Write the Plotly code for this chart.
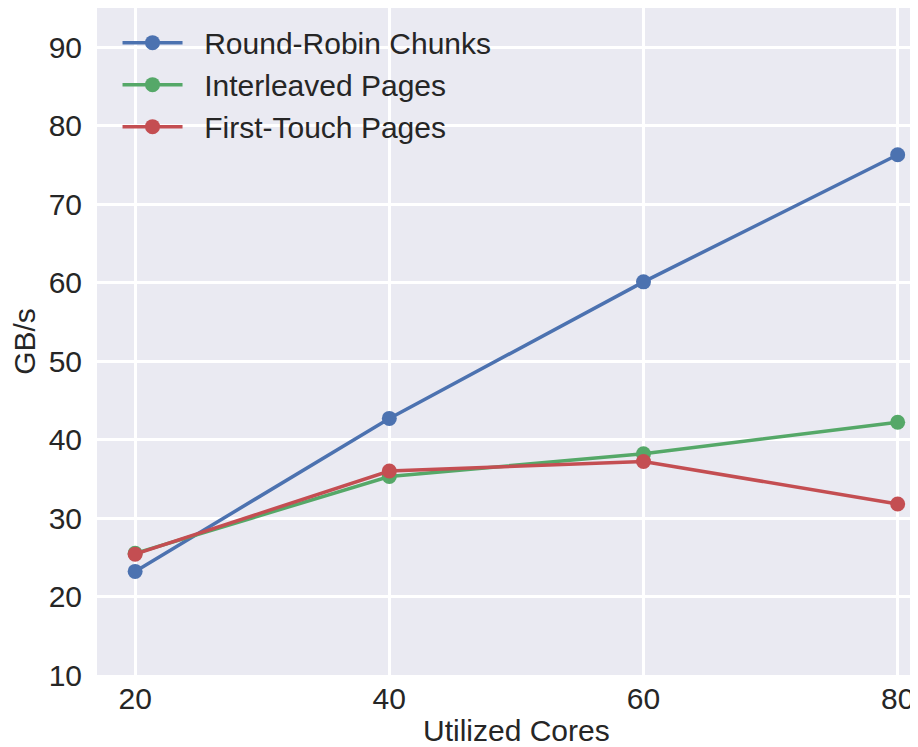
import plotly.graph_objects as go

cores = [20, 40, 60, 80]
round_robin = [23.2, 42.7, 60.1, 76.3]
interleaved = [25.5, 35.3, 38.2, 42.2]
first_touch = [25.4, 36.0, 37.2, 31.8]

series = [
    ("Round-Robin Chunks", round_robin, "#4C72B0"),
    ("Interleaved Pages", interleaved, "#55A868"),
    ("First-Touch Pages", first_touch, "#C44E52"),
]

fig = go.Figure()
for name, vals, col in series:
    fig.add_trace(go.Scatter(
        x=cores, y=vals, name="\u00a0\u00a0" + name, mode="lines+markers",
        line=dict(color=col, width=3.5),
        marker=dict(color=col, size=15),
    ))

font = "Liberation Sans, Arial, Helvetica, sans-serif"
fig.update_layout(
    width=910, height=739,
    margin=dict(l=89, r=0, t=0, b=72),
    paper_bgcolor="white",
    plot_bgcolor="#EAEAF2",
    font=dict(family=font, size=30, color="#262626"),
    showlegend=True,
    legend=dict(x=0.025, y=0.987, xanchor="left", yanchor="top",
                bgcolor="rgba(0,0,0,0)", font=dict(size=30),
                itemwidth=60, tracegroupgap=0),
    xaxis=dict(range=[17, 81.6], tickvals=cores, showgrid=True,
               gridcolor="white", gridwidth=2.5, zeroline=False,
               ticks="", ticklabelstandoff=3, automargin=False),
    yaxis=dict(range=[10, 95], tickvals=list(range(10, 91, 10)), showgrid=True,
               gridcolor="white", gridwidth=2.5, zeroline=False,
               ticks="", ticklabelstandoff=14, automargin=False,
               title=dict(text="GB/s", standoff=10, font=dict(size=30))),
    annotations=[dict(text="Utilized Cores", x=50, xref="x", y=0, yref="paper",
                      xanchor="center", yanchor="middle", yshift=-55,
                      borderpad=0, showarrow=False,
                      font=dict(size=30, color="#262626"))],
)

fig.write_html("out.html")
